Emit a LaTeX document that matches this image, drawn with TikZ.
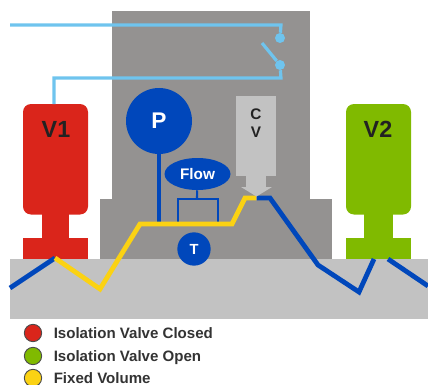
\documentclass[tikz,border=0pt]{standalone}
\usepackage{fontspec}
\usetikzlibrary{shapes.geometric}
\setmainfont{Liberation Sans}
\definecolor{blockgray}{HTML}{949291}
\definecolor{lightg}{HTML}{C2C2C2}
\definecolor{redv}{HTML}{DA251B}
\definecolor{greenv}{HTML}{80BA00}
\definecolor{bluep}{HTML}{0047BB}
\definecolor{yellowp}{HTML}{FBD213}
\definecolor{wire}{HTML}{6FC4EE}
\definecolor{inkc}{HTML}{222222}
\tikzset{
  px/.style={x=0.75pt,y=-0.75pt},
  wireline/.style={draw=wire,line width=2.4pt},
  pipeblue/.style={draw=bluep,line width=3.6pt,line join=miter},
  pipeyellow/.style={draw=yellowp,line width=3.6pt,line join=miter},
  inst/.style={draw=bluep,line width=1.6pt},
  vlabel/.style={font=\bfseries\fontsize{17.5}{18}\selectfont,text=inkc,inner sep=0pt},
  cvlabel/.style={font=\bfseries\fontsize{11.5}{13}\selectfont,text=inkc,inner sep=0pt},
  wlabel/.style={font=\bfseries,text=white,inner sep=0pt},
  legdot/.style={circle,draw=black!70,line width=0.7pt,minimum size=13pt,inner sep=0pt},
  legtext/.style={font=\bfseries\fontsize{11.3}{13}\selectfont,text=black!80,anchor=base west,inner sep=0pt},
}
\newcommand{\valveshape}[3]{% left x, neck offset x, colour
  \fill[#3,rounded corners=6pt] (#1,104) rectangle (#1+65,214.5);
  \fill[#3] (#1+#2,205) rectangle (#1+65-#2,240);
  \fill[#3] (#1,238) rectangle (#1+65,259);
}
\begin{document}
\begin{tikzpicture}[px]
\useasboundingbox (0,0) rectangle (428,385);
% housing
\fill[blockgray] (112,11) rectangle (310,259);
\fill[blockgray] (100,199) rectangle (332,259);
\fill[lightg] (10,259) rectangle (428,319);
% valves
\valveshape{23}{19}{redv}
\valveshape{346}{18}{greenv}
\node[vlabel] (v1) at (56,129) {V1};
\node[vlabel] (v2) at (378,129) {V2};
% pipes
\coordinate (a0) at (10,288);
\coordinate (a1) at (55,258);
\coordinate (a2) at (100,289);
\coordinate (a3) at (140,224);
\coordinate (a4) at (232,224);
\coordinate (a5) at (245,198);
\coordinate (a6) at (256,198);
\coordinate (b0) at (257,198);
\coordinate (b1) at (270,198);
\coordinate (b2) at (318,265);
\coordinate (b3) at (359,292);
\coordinate (b4) at (374,259);
\coordinate (c0) at (388,259);
\coordinate (c1) at (428,286);
% instruments
\node[circle,fill=bluep,minimum size=49.5pt,inner sep=0pt,wlabel,font=\bfseries\fontsize{17}{18}\selectfont] (p) at (159,121) {P};
\node[ellipse,fill=bluep,minimum width=49.5pt,minimum height=24pt,inner sep=0pt,wlabel,font=\bfseries\fontsize{11.5}{14}\selectfont] (flow) at (197.5,174) {Flow};
\coordinate (pb) at (159,224);
\draw[draw=bluep,line width=3.6pt] (p) -- (pb);
\coordinate (fb) at (197,199);
\coordinate (fl) at (178,224);
\coordinate (fr) at (218,224);
\draw[inst] (flow) -- (fb);
\draw[inst] (fl) |- (fb) -| (fr);
\draw[pipeblue] (a0) -- (a1);
\draw[pipeyellow] (a1) -- (a2) -- (a3) -- (a4) -- (a5) -- (a6);
\draw[pipeblue] (b0) -- (b1) -- (b2) -- (b3) -- (b4);
\draw[pipeblue] (c0) -- (c1);
\node[circle,fill=bluep,minimum size=25pt,inner sep=0pt,wlabel,font=\bfseries\fontsize{11}{12}\selectfont] (t) at (194,249) {T};
% control valve
\fill[lightg] (236,96) rectangle (276,176);
\fill[lightg] (246,176) rectangle (266,188);
\fill[lightg] (241,187) -- (272,187) -- (256.5,196.5) -- cycle;
\node[cvlabel] (cvc) at (256,114) {C};
\node[cvlabel] (cvv) at (256,132.5) {V};
% wires and switch
\node[circle,fill=wire,minimum size=7.5pt,inner sep=0pt] (s1) at (280,38) {};
\node[circle,fill=wire,minimum size=7.5pt,inner sep=0pt] (s2) at (280,65) {};
\coordinate (w0) at (10,25);
\coordinate (w1) at (281,25);
\coordinate (w2) at (54,104);
\coordinate (w3) at (54,78);
\coordinate (w4) at (281,78);
\coordinate (arm) at (262,43);
\draw[wireline] (w0) -- (w1) -- (s1);
\draw[wireline] (w2) -- (w3) -- (w4) -- (s2);
\draw[wireline] (arm) -- (s2);
% legend
\node[legdot,fill=redv] (l1) at (33,333) {};
\node[legdot,fill=greenv] (l2) at (33,356) {};
\node[legdot,fill=yellowp] (l3) at (33,378) {};
\node[legtext] (lt1) at (53.5,338) {Isolation Valve Closed};
\node[legtext] (lt2) at (53.5,361) {Isolation Valve Open};
\node[legtext] (lt3) at (53.5,383) {Fixed Volume};
\end{tikzpicture}
\end{document}
